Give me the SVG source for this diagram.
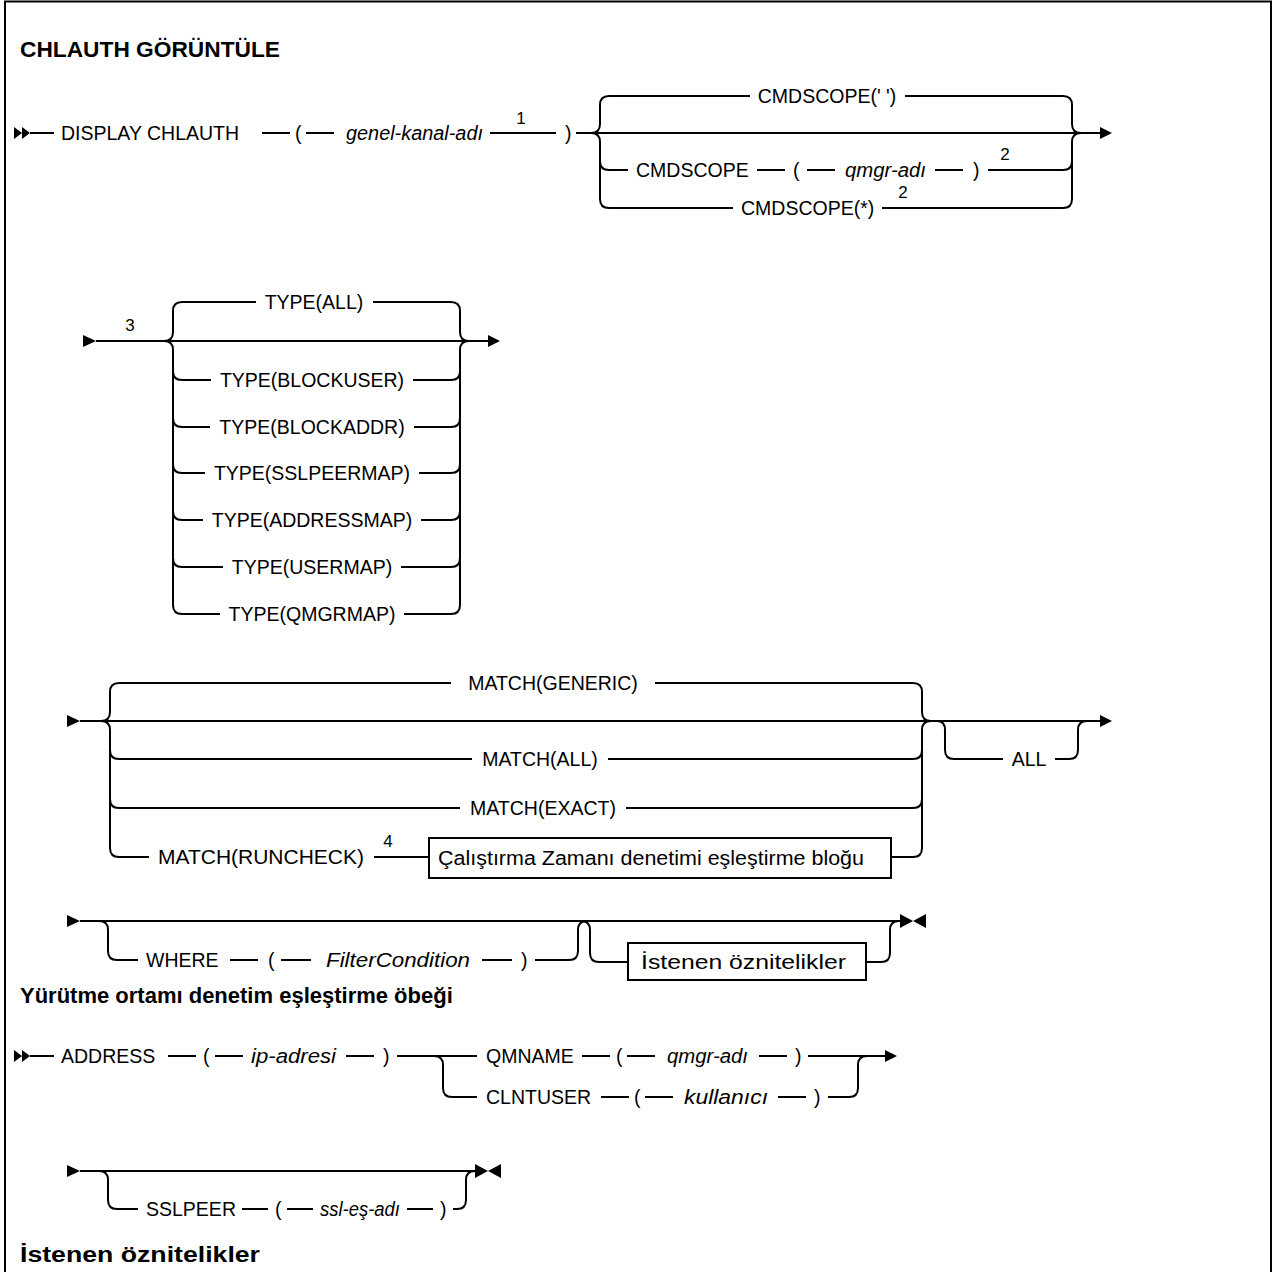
<svg xmlns="http://www.w3.org/2000/svg" width="1273" height="1272" viewBox="0 0 1273 1272">
<style>
.r{fill:none;stroke:#000;stroke-width:2}
.a{fill:#000;stroke:none}
.t{font-family:"Liberation Sans",Arial,sans-serif;font-size:19.5px;fill:#000}
.i{font-style:italic}
.n{font-family:"Liberation Sans",Arial,sans-serif;font-size:17px;fill:#000;text-anchor:middle}
.m{text-anchor:middle}
.h{font-family:"Liberation Sans",Arial,sans-serif;font-size:22px;font-weight:bold;fill:#000}
.b{fill:#fff;stroke:#000;stroke-width:2}
</style>
<rect x="5" y="1.5" width="1266" height="1300" fill="#fff" stroke="#000" stroke-width="2"/>
<g id="titles">
<text class="h" x="20" y="57" textLength="260" lengthAdjust="spacingAndGlyphs">CHLAUTH GÖRÜNTÜLE</text>
<text class="h" x="20" y="1003">Yürütme ortamı denetim eşleştirme öbeği</text>
<text class="h" x="20" y="1262" textLength="240" lengthAdjust="spacingAndGlyphs">İstenen öznitelikler</text>
</g>
<g id="connectors">
<path class="a" d="M14,127L22,133L14,139ZM22,127L30,133L22,139Z"/>
<path class="r" d="M30,133H54M262,133H290M306,133H334M490,133H556M576,133H1100"/>
<path class="a" d="M1100,127L1112,133L1100,139Z"/>
<path class="r" d="M591,133Q600,133 600,124V105Q600,96 609,96H750M905,96H1063Q1072,96 1072,105V124Q1072,133 1081,133"/>
<path class="r" d="M591,133Q600,133 600,142V199Q600,208 609,208H733M600,161Q600,170 609,170H628"/>
<path class="r" d="M757,170H785M807,170H835M935,170H963M988,170H1063Q1072,170 1072,161"/>
<path class="r" d="M882,208H1063Q1072,208 1072,199V142Q1072,133 1081,133"/>
<path class="a" d="M83,335L96,341L83,347Z"/>
<path class="r" d="M96,341H488"/>
<path class="a" d="M488,335L500,341L488,347Z"/>
<path class="r" d="M164,341Q173,341 173,332V311Q173,302 182,302H256M373,302H451Q460,302 460,311V332Q460,341 469,341"/>
<path class="r" d="M164,341Q173,341 173,350V605Q173,614 182,614H220M404,614H451Q460,614 460,605V350Q460,341 469,341"/>
<path class="r" d="M173,371Q173,380 182,380H211M413,380H451Q460,380 460,371"/>
<path class="r" d="M173,418Q173,427 182,427H210M414,427H451Q460,427 460,418"/>
<path class="r" d="M173,464Q173,473 182,473H205M419,473H451Q460,473 460,464"/>
<path class="r" d="M173,511Q173,520 182,520H203M421,520H451Q460,520 460,511"/>
<path class="r" d="M173,558Q173,567 182,567H223M401,567H451Q460,567 460,558"/>
<path class="a" d="M67,715L80,721L67,727Z"/>
<path class="r" d="M80,721H1100"/>
<path class="a" d="M1100,715L1112,721L1100,727Z"/>
<path class="r" d="M101,721Q110,721 110,712V692Q110,683 119,683H451M655,683H913Q922,683 922,692V712Q922,721 931,721"/>
<path class="r" d="M101,721Q110,721 110,730V848Q110,857 119,857H149M374,857H429M891,857H913Q922,857 922,848V730Q922,721 931,721"/>
<path class="r" d="M110,750Q110,759 119,759H472M608,759H913Q922,759 922,750"/>
<path class="r" d="M110,799Q110,808 119,808H460M626,808H913Q922,808 922,799"/>
<path class="r" d="M937,721Q945,721 945,730V750Q945,759 954,759H1003M1055,759H1069Q1078,759 1078,750V730Q1078,721 1087,721"/>
<path class="a" d="M67,915L80,921L67,927Z"/>
<path class="r" d="M80,921H900"/>
<path class="a" d="M900,914L913,921L900,928ZM926,914L913,921L926,928Z"/>
<path class="r" d="M99,921Q108,921 108,930V951Q108,960 117,960H138M230,960H258M281,960H311M482,960H512M535,960H569Q578,960 578,951V930Q578,921 587,921"/>
<path class="r" d="M581,921Q590,921 590,930V953Q590,962 599,962H628M866,962H881Q890,962 890,953V930Q890,921 899,921"/>
<path class="a" d="M14,1050L22,1056L14,1062ZM22,1050L30,1056L22,1062Z"/>
<path class="r" d="M30,1056H54M168,1056H196M215,1056H243M346,1056H374M397,1056H477M582,1056H610M627,1056H655M759,1056H787M808,1056H885"/>
<path class="a" d="M885,1050L897,1056L885,1062Z"/>
<path class="r" d="M434,1056Q443,1056 443,1065V1088Q443,1097 452,1097H477M601,1097H629M645,1097H673M778,1097H806M828,1097H849Q858,1097 858,1088V1065Q858,1056 867,1056"/>
<path class="a" d="M67,1165L80,1171L67,1177Z"/>
<path class="r" d="M80,1171H475"/>
<path class="a" d="M475,1164L488,1171L475,1178ZM501,1164L488,1171L501,1178Z"/>
<path class="r" d="M99,1171Q108,1171 108,1180V1200Q108,1209 117,1209H138M242,1209H268M287,1209H313M407,1209H433M453,1209H457Q466,1209 466,1200V1180Q466,1171 475,1171"/>
</g>
<g id="n-display"><text class="t" x="61" y="140">DISPLAY CHLAUTH</text></g>
<g id="n-lp1"><text class="t" x="295" y="140">(</text></g>
<g id="n-genel"><text class="t i" x="346" y="140" textLength="137" lengthAdjust="spacingAndGlyphs">genel-kanal-adı</text></g>
<g id="n-note1"><text class="n" x="521" y="124">1</text></g>
<g id="n-rp1"><text class="t" x="565" y="140">)</text></g>
<g id="n-cmdscope-blank"><text class="t m" x="827" y="103">CMDSCOPE(' ')</text></g>
<g id="n-cmdscope"><text class="t" x="636" y="177">CMDSCOPE</text><text class="t" x="793" y="177">(</text><text class="t i" x="845" y="177" textLength="81" lengthAdjust="spacingAndGlyphs">qmgr-adı</text><text class="t" x="973" y="177">)</text><text class="n" x="1005" y="160">2</text></g>
<g id="n-cmdscope-star"><text class="t" x="741" y="215">CMDSCOPE(*)</text><text class="n" x="903" y="198">2</text></g>
<g id="n-note3"><text class="n" x="130" y="331">3</text></g>
<g id="n-type-all"><text class="t m" x="314" y="309">TYPE(ALL)</text></g>
<g id="n-type-blockuser"><text class="t m" x="312" y="387">TYPE(BLOCKUSER)</text></g>
<g id="n-type-blockaddr"><text class="t m" x="312" y="434">TYPE(BLOCKADDR)</text></g>
<g id="n-type-sslpeermap"><text class="t m" x="312" y="480">TYPE(SSLPEERMAP)</text></g>
<g id="n-type-addressmap"><text class="t m" x="312" y="527">TYPE(ADDRESSMAP)</text></g>
<g id="n-type-usermap"><text class="t m" x="312" y="574">TYPE(USERMAP)</text></g>
<g id="n-type-qmgrmap"><text class="t m" x="312" y="621">TYPE(QMGRMAP)</text></g>
<g id="n-match-generic"><text class="t m" x="553" y="690">MATCH(GENERIC)</text></g>
<g id="n-match-all"><text class="t m" x="540" y="766">MATCH(ALL)</text></g>
<g id="n-match-exact"><text class="t m" x="543" y="815">MATCH(EXACT)</text></g>
<g id="n-match-runcheck"><text class="t" x="158" y="864" textLength="206" lengthAdjust="spacingAndGlyphs">MATCH(RUNCHECK)</text><text class="n" x="388" y="847">4</text></g>
<g id="n-runcheck-block"><rect class="b" x="429" y="838" width="462" height="40"/><text class="t" x="438" y="865" textLength="426" lengthAdjust="spacingAndGlyphs">Çalıştırma Zamanı denetimi eşleştirme bloğu</text></g>
<g id="n-all"><text class="t m" x="1029" y="766">ALL</text></g>
<g id="n-where"><text class="t" x="146" y="967">WHERE</text><text class="t" x="268" y="967">(</text><text class="t i" x="326" y="967" textLength="144" lengthAdjust="spacingAndGlyphs">FilterCondition</text><text class="t" x="521" y="967">)</text></g>
<g id="n-istenen-box"><rect class="b" x="628" y="943" width="238" height="37"/><text class="t" x="641" y="969" textLength="205" lengthAdjust="spacingAndGlyphs">İstenen öznitelikler</text></g>
<g id="n-address"><text class="t" x="61" y="1063">ADDRESS</text><text class="t" x="203" y="1063">(</text><text class="t i" x="251" y="1063" textLength="85" lengthAdjust="spacingAndGlyphs">ip-adresi</text><text class="t" x="383" y="1063">)</text></g>
<g id="n-qmname"><text class="t" x="486" y="1063">QMNAME</text><text class="t" x="616" y="1063">(</text><text class="t i" x="667" y="1063" textLength="81" lengthAdjust="spacingAndGlyphs">qmgr-adı</text><text class="t" x="795" y="1063">)</text></g>
<g id="n-clntuser"><text class="t" x="486" y="1104">CLNTUSER</text><text class="t" x="634" y="1104">(</text><text class="t i" x="684" y="1104" textLength="84" lengthAdjust="spacingAndGlyphs">kullanıcı</text><text class="t" x="814" y="1104">)</text></g>
<g id="n-sslpeer"><text class="t" x="146" y="1216">SSLPEER</text><text class="t" x="275" y="1216">(</text><text class="t i" x="320" y="1216" textLength="80" lengthAdjust="spacingAndGlyphs">ssl-eş-adı</text><text class="t" x="440" y="1216">)</text></g>
</svg>
